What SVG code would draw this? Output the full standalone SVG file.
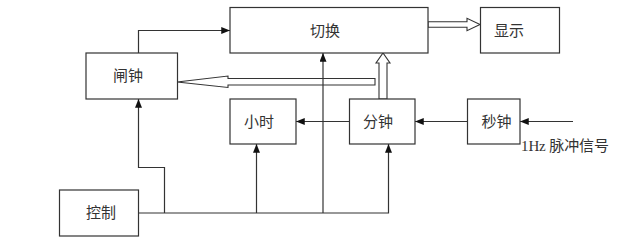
<svg xmlns="http://www.w3.org/2000/svg" width="628" height="248" viewBox="0 0 628 248">
<style>
.box{fill:#fff;stroke:#333;stroke-width:1.2}
.lbl{font-family:"Liberation Serif","Noto Sans CJK SC",serif;font-size:15px;fill:#333;text-anchor:middle;dominant-baseline:central}
.ln{fill:none;stroke:#333;stroke-width:1.2}
.hol{fill:#fff;stroke:#333;stroke-width:1.1}
</style>
<defs>
<marker id="ah" viewBox="0 0 10 8" refX="10" refY="4" markerWidth="9" markerHeight="7" markerUnits="userSpaceOnUse" orient="auto">
<path d="M0,0 L10,4 L0,8 Z" fill="#111"/>
</marker>
</defs>
<g id="connectors">
<polyline class="ln" points="138.5,53 138.5,30.5 230,30.5" marker-end="url(#ah)"/>
<polygon class="hol" points="177,82 228,76 228,78.5 375,78.5 375,85 228,85 228,87.5"/>
<polygon class="hol" points="428,21.7 467,21.7 467,18.3 480,24.5 467,30.7 467,27.3 428,27.3"/>
<polygon class="hol" points="379,99 379,63 376,63 383,53 390,63 387,63 387,99"/>
<line class="ln" x1="323" y1="213" x2="323" y2="53" marker-end="url(#ah)"/>
<line class="ln" x1="349" y1="121.5" x2="296" y2="121.5" marker-end="url(#ah)"/>
<line class="ln" x1="467" y1="121.5" x2="415" y2="121.5" marker-end="url(#ah)"/>
<line class="ln" x1="573" y1="121.5" x2="520" y2="121.5" marker-end="url(#ah)"/>
<polyline class="ln" points="138,213 388.5,213 388.5,144" marker-end="url(#ah)"/>
<line class="ln" x1="256.5" y1="213" x2="256.5" y2="144" marker-end="url(#ah)"/>
<polyline class="ln" points="164.5,213 164.5,167.5 138.5,167.5 138.5,99" marker-end="url(#ah)"/>
</g>
<g id="qiehuan"><rect class="box" x="230" y="7.5" width="198" height="45.5"/><text class="lbl" x="325" y="31">切换</text></g>
<g id="xianshi"><rect class="box" x="480.5" y="7.5" width="79" height="45.5"/><text class="lbl" x="509" y="31">显示</text></g>
<g id="zhazhong"><rect class="box" x="86" y="53" width="91.5" height="46"/><text class="lbl" x="128" y="76">闸钟</text></g>
<g id="xiaoshi"><rect class="box" x="230" y="99" width="66" height="45"/><text class="lbl" x="259" y="121.5">小时</text></g>
<g id="fenzhong"><rect class="box" x="349.5" y="99" width="65.5" height="45"/><text class="lbl" x="378" y="121.5">分钟</text></g>
<g id="miaozhong"><rect class="box" x="467.5" y="99" width="52.5" height="45"/><text class="lbl" x="496.5" y="121.5">秒钟</text></g>
<g id="kongzhi"><rect class="box" x="59.5" y="190" width="79" height="46"/><text class="lbl" x="101" y="213">控制</text></g>
<text x="521" y="151" textLength="88" style="font-family:'Liberation Serif','Noto Sans CJK SC',serif;font-size:15px;fill:#333">1Hz 脉冲信号</text>
</svg>
